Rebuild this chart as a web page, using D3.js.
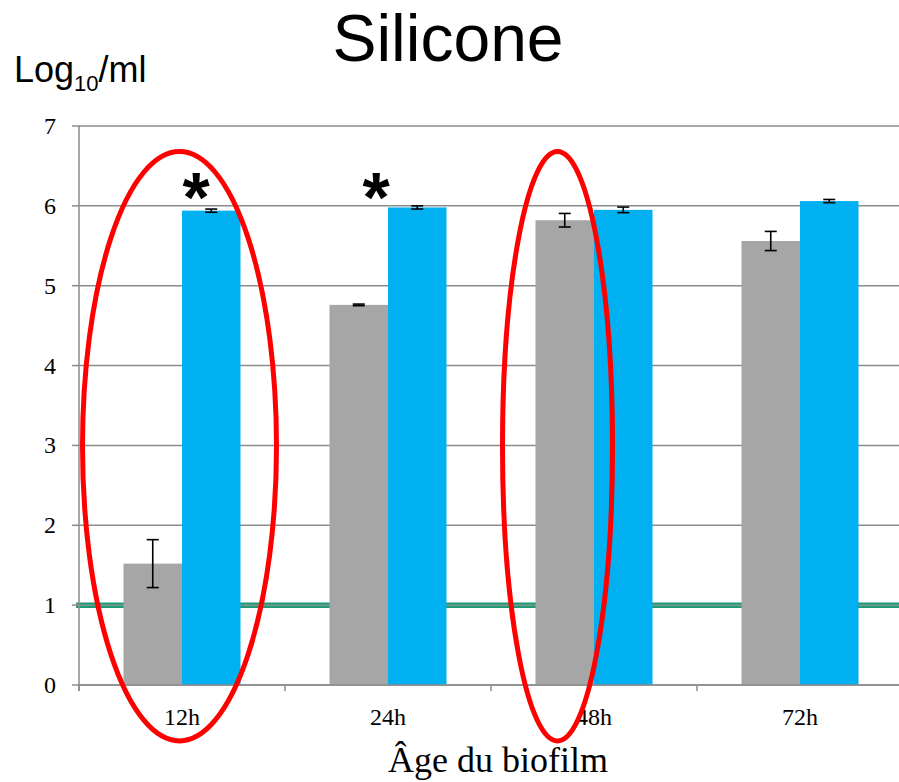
<!DOCTYPE html>
<html><head><meta charset="utf-8">
<script src="https://cdn.jsdelivr.net/npm/d3@7"></script>
<style>body{margin:0;background:#fff}svg{display:block}</style>
</head><body>
<script>
const categories = ["12h", "24h", "48h", "72h"];
const grayValues = [1.52, 4.76, 5.82, 5.56];
const grayErrors = [0.30, 0.01, 0.085, 0.12];
const blueValues = [5.94, 5.98, 5.95, 6.06];
const blueErrors = [0.02, 0.02, 0.035, 0.02];
const yTicks = [0, 1, 2, 3, 4, 5, 6, 7];
const thresholdValue = 1;
const starCategories = ["12h", "24h"];
const ellipseCategories = ["12h", "48h"];

const W = 899, H = 782;
const m = {left: 79, top: 126, bottom: 97};
const SERIF = "'Liberation Serif', 'Times New Roman', serif";
const SANS = "'Liberation Sans', Arial, sans-serif";
const svg = d3.select("body").append("svg").attr("width", W).attr("height", H);

const x = d3.scaleBand().domain(categories).range([m.left, m.left + 4 * 206]).paddingInner(0.432).paddingOuter(0.216);
const y = d3.scaleLinear().domain([0, 7]).range([H - m.bottom, m.top]);
const bw = x.bandwidth() / 2;

// gridlines
svg.append("g").selectAll("line").data(yTicks).join("line")
  .attr("x1", m.left).attr("x2", W).attr("y1", d => y(d)).attr("y2", d => y(d))
  .attr("stroke", "#8c8c8c").attr("stroke-width", 1.5);

// threshold line
svg.append("line").attr("x1", m.left - 3).attr("x2", W)
  .attr("y1", y(thresholdValue)).attr("y2", y(thresholdValue))
  .attr("stroke", "#1f9a78").attr("stroke-width", 5.5);
svg.append("line").attr("x1", m.left - 3).attr("x2", W)
  .attr("y1", y(thresholdValue)).attr("y2", y(thresholdValue))
  .attr("stroke", "#7f9a8c").attr("stroke-width", 1.5);

// bars
const gBars = svg.append("g");
gBars.selectAll("rect.g").data(categories).join("rect").attr("class", "g")
  .attr("x", d => x(d)).attr("width", bw)
  .attr("y", (d, i) => y(grayValues[i])).attr("height", (d, i) => y(0) - y(grayValues[i]))
  .attr("fill", "#a6a6a6");
gBars.selectAll("rect.b").data(categories).join("rect").attr("class", "b")
  .attr("x", d => x(d) + bw).attr("width", bw)
  .attr("y", (d, i) => y(blueValues[i])).attr("height", (d, i) => y(0) - y(blueValues[i]))
  .attr("fill", "#00b0f0");

// error bars
function errBars(vals, errs, off) {
  const g = svg.append("g").attr("stroke", "#000").attr("stroke-width", 1.6);
  categories.forEach((c, i) => {
    const cx = x(c) + off + bw / 2;
    const y1 = y(vals[i] + errs[i]), y2 = y(vals[i] - errs[i]);
    g.append("line").attr("x1", cx).attr("x2", cx).attr("y1", y1).attr("y2", y2);
    g.append("line").attr("x1", cx - 6).attr("x2", cx + 6).attr("y1", y1).attr("y2", y1);
    g.append("line").attr("x1", cx - 6).attr("x2", cx + 6).attr("y1", y2).attr("y2", y2);
  });
}
errBars(grayValues, grayErrors, 0);
errBars(blueValues, blueErrors, bw);

// axes
const axG = svg.append("g").attr("stroke", "#8c8c8c").attr("stroke-width", 1.5);
axG.append("line").attr("x1", m.left).attr("x2", m.left).attr("y1", y(7)).attr("y2", y(0) + 6);
axG.append("line").attr("x1", m.left).attr("x2", W).attr("y1", y(0)).attr("y2", y(0));
axG.selectAll("line.yt").data(yTicks).join("line").attr("class", "yt")
  .attr("x1", m.left - 7).attr("x2", m.left).attr("y1", d => y(d)).attr("y2", d => y(d));
const bounds = categories.map(c => x(c) - x.step() * x.paddingInner() / 2);
axG.selectAll("line.xt").data(bounds).join("line").attr("class", "xt")
  .attr("x1", d => d).attr("x2", d => d).attr("y1", y(0)).attr("y2", y(0) + 6);

// tick labels
svg.append("g").selectAll("text").data(yTicks).join("text")
  .attr("x", 56).attr("y", d => y(d) + 8).attr("text-anchor", "end")
  .attr("font-family", SERIF).attr("font-size", 24).text(d => d);
svg.append("g").selectAll("text").data(categories).join("text")
  .attr("x", d => x(d) + x.bandwidth() / 2).attr("y", y(0) + 40).attr("text-anchor", "middle")
  .attr("font-family", SERIF).attr("font-size", 24).text(d => d);

// ellipses (annotation)
const ellipseOffsets = [-2.5, -36.5];
const ellipseRx = [97, 55];
svg.append("g").selectAll("ellipse").data(ellipseCategories).join("ellipse")
  .attr("cx", (d, i) => x(d) + x.bandwidth() / 2 + ellipseOffsets[i])
  .attr("cy", y(2.99))
  .attr("rx", (d, i) => ellipseRx[i])
  .attr("ry", y(-0.7) - y(2.99))
  .attr("fill", "none").attr("stroke", "#ff0000").attr("stroke-width", 5);

// stars
svg.append("g").selectAll("text").data(starCategories).join("text")
  .attr("x", d => x(d) + x.bandwidth() / 2 + (d === "24h" ? -12 : 14))
  .attr("y", y(6) + 16).attr("text-anchor", "middle")
  .attr("font-family", SANS).attr("font-weight", "bold")
  .attr("font-size", 70).text("*");

// title & labels
svg.append("text").attr("x", 448).attr("y", 61).attr("text-anchor", "middle")
  .attr("font-family", SANS).attr("font-size", 66).text("Silicone");
const yl = svg.append("text").attr("x", 14).attr("y", 82)
  .attr("font-family", SANS).attr("font-size", 36);
yl.append("tspan").text("Log");
yl.append("tspan").attr("font-size", 22).attr("dy", 9).text("10");
yl.append("tspan").attr("dy", -9).text("/ml");
svg.append("text").attr("x", 498).attr("y", 772).attr("text-anchor", "middle")
  .attr("font-family", SERIF).attr("font-size", 36).text("Âge du biofilm");
</script>
</body></html>
